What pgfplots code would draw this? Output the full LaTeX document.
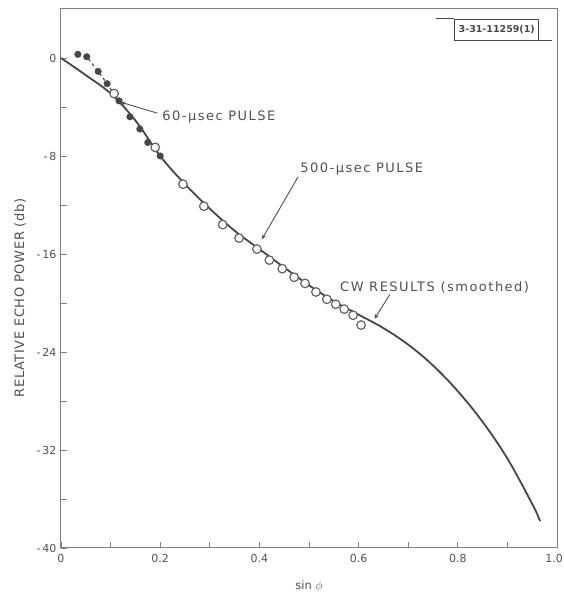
\documentclass[border=0pt]{standalone}
\usepackage{pgfplots}
\pgfplotsset{compat=1.18}
\usepackage{fontspec}
\setmainfont{DejaVu Sans}
\usetikzlibrary{calc,arrows.meta}
\definecolor{ink}{HTML}{474747}
\definecolor{frame}{HTML}{808080}
\definecolor{lettering}{HTML}{505050}
\newcommand{\lettered}[1]{{\fontsize{13}{15}\selectfont\addfontfeature{LetterSpace=11.5}#1}}

\begin{document}
\begin{tikzpicture}
\begin{axis}[
  name=ax,
  scale only axis, width=496pt, height=539pt,
  xmin=0, xmax=1, ymin=-40, ymax=4,
  axis line style={frame, line width=1pt},
  tick align=inside, xtick pos=bottom, ytick pos=left,
  major tick length=6pt, minor tick length=6pt,
  every tick/.append style={frame, line width=0.9pt},
  xtick={0,0.2,0.4,0.6,0.8,1.0},
  xticklabels={0,0.2,0.4,0.6,0.8,\hspace*{-6pt}1.0},
  minor xtick={0.1,0.3,0.5,0.7,0.9},
  ytick={-40,-32,-24,-16,-8,0},
  yticklabels={-\,40,-\,32,-\,24,-\,16,-\,8,0},
  minor ytick={-36,-28,-20,-12,-4},
  ticklabel style={font=\fontsize{11}{13}\selectfont, text=lettering},
  xticklabel style={yshift=-3pt},
  yticklabel style={xshift=-1pt},
  clip=false,
]
% CW results (smoothed)
\addplot[ink, line width=1.8pt, smooth, tension=0.6] coordinates {
  (0,0) (0.05,-1.4) (0.1,-2.9) (0.15,-5.1) (0.2,-8.0) (0.25,-10.3)
  (0.3,-12.3) (0.35,-14.1) (0.4,-15.6) (0.45,-17.1) (0.5,-18.55)
  (0.55,-19.85) (0.6,-20.95) (0.65,-22.05) (0.7,-23.4) (0.75,-25.1)
  (0.8,-27.2) (0.85,-29.7) (0.9,-32.7) (0.95,-36.4) (0.966,-37.8)
};
% 60-usec pulse
\addplot[ink, dashed, line width=1.1pt] coordinates {
  (0.034,0.3) (0.052,0.1) (0.075,-1.1) (0.093,-2.1) (0.117,-3.5)
};
\addplot[only marks, mark=*, mark size=3.3pt,
  mark options={fill=ink, draw=ink}] coordinates {
  (0.034,0.3) (0.052,0.1) (0.075,-1.1) (0.093,-2.1) (0.117,-3.5)
  (0.139,-4.8) (0.159,-5.8) (0.175,-6.9) (0.2,-8.0)
};
% 500-usec pulse
\addplot[only marks, mark=*, mark size=4.3pt,
  mark options={fill=white, draw=ink!85, line width=1.2pt}] coordinates {
  (0.107,-2.9) (0.19,-7.3) (0.246,-10.3) (0.288,-12.1) (0.326,-13.6)
  (0.359,-14.7) (0.395,-15.6) (0.42,-16.5) (0.446,-17.2) (0.47,-17.9)
  (0.492,-18.4) (0.514,-19.1) (0.536,-19.7) (0.554,-20.1) (0.571,-20.5)
  (0.589,-21.0) (0.605,-21.8)
};

% annotations
\draw[lettering, line width=0.9pt, -{Stealth[length=5pt,width=4pt]}]
  (axis cs:0.194,-4.5) -- (axis cs:0.12,-3.6);
\node[anchor=west, text=lettering, inner sep=0pt] at (axis cs:0.204,-4.8)
  {\lettered{60-µsec PULSE}};
\draw[lettering, line width=0.9pt, -{Stealth[length=5pt,width=4pt]}]
  (axis cs:0.478,-9.7) -- (axis cs:0.405,-14.8);
\node[anchor=west, text=lettering, inner sep=0pt] at (axis cs:0.482,-9.1)
  {\lettered{500-µsec PULSE}};
\draw[lettering, line width=0.9pt, -{Stealth[length=5pt,width=4pt]}]
  (axis cs:0.663,-19.3) -- (axis cs:0.632,-21.3);
\node[anchor=west, text=lettering, inner sep=0pt] at (axis cs:0.5625,-18.7)
  {\lettered{CW RESULTS (smoothed)}};

% drawing number tag
\node[draw=ink, line width=0.9pt, text=ink, inner sep=0pt,
  minimum width=84pt, minimum height=21pt,
  font=\fontsize{9.5}{11}\selectfont\bfseries] (tag) at (axis cs:0.8785,2.33) {3-31-11259(1)};
\draw[ink, line width=0.9pt] (tag.north west) -- ++(-18pt,0pt);
\draw[ink, line width=0.9pt] (tag.south east) -- ++(13pt,0pt);
\end{axis}

\node[rotate=90, text=lettering,
  font=\fontsize{13}{15}\selectfont\addfontfeature{LetterSpace=5}]
  at ($(ax.south west)+(-41pt,250pt)$) {RELATIVE ECHO POWER (db)};
\node[text=lettering, font=\fontsize{11.5}{13}\selectfont]
  at ($(ax.south west)+(248pt,-38pt)$) {sin $\phi$};

\pgfresetboundingbox
\path ($(ax.south west)+(-61pt,-49pt)$) rectangle ($(ax.north east)+(6pt,9pt)$);
\end{tikzpicture}
\end{document}
